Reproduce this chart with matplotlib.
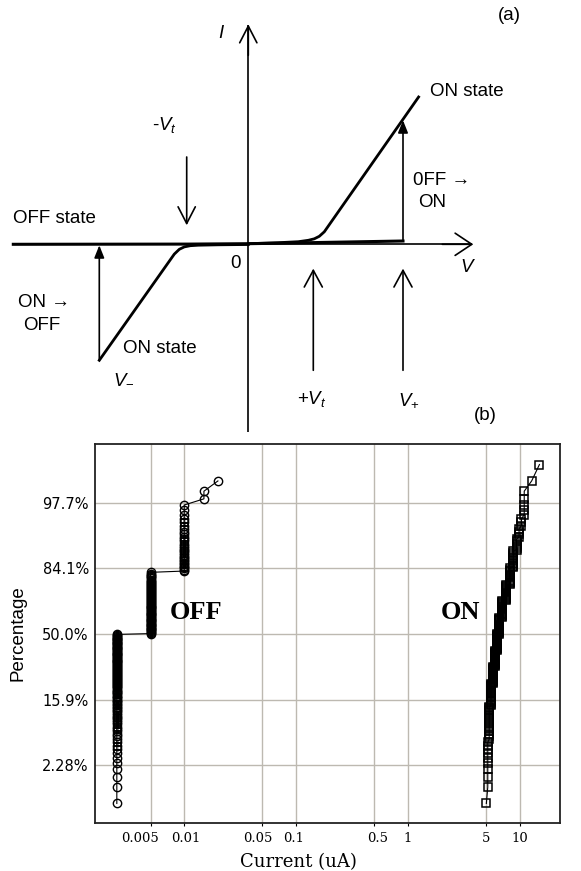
import matplotlib
matplotlib.use('Agg')
import matplotlib.pyplot as plt
import numpy as np
from statistics import NormalDist
from matplotlib.ticker import FixedLocator, FixedFormatter, NullLocator
from matplotlib.transforms import ScaledTranslation

plt.rcParams['font.family'] = ['Liberation Sans', 'DejaVu Sans']
plt.rcParams['mathtext.fontset'] = 'custom'
plt.rcParams['mathtext.it'] = 'Liberation Sans:italic'
plt.rcParams['mathtext.rm'] = 'Liberation Sans'

# ---------------- panel (b) data ----------------
n_devices = 200
off_current = [0.0025, 0.005, 0.01, 0.015, 0.02]          # uA
off_count = [100, 66, 30, 2, 1]
on_current = [5.0, 5.15, 5.3, 5.5, 5.7, 5.95, 6.2, 6.5, 6.95, 7.5,
              8.1, 8.7, 9.3, 9.8, 10.3, 10.9, 12.7, 14.9]  # uA
on_count = [1, 9, 17, 18, 17, 18, 20, 20, 19, 16, 14, 11, 6, 4, 3, 5, 1, 1]
y_tick_labels = ['2.28%', '15.9%', '50.0%', '84.1%', '97.7%']
x_tick_values = [0.005, 0.01, 0.05, 0.1, 0.5, 1, 5, 10]
x_tick_labels = ['0.005', '0.01', '0.05', '0.1', '0.5', '1', '5', '10']

# ---------------- panel (a) schematic data (V, I in arbitrary units) ----------------
v_axis_v = [-235.0, 224.0]
v_axis_i = [0.0, 0.0]
i_axis_v = [0.0, 0.0]
i_axis_i = [-188.0, 219.0]
off_state_v = [-235.0, -60.0, 0.0, 60.0, 154.7]
off_state_i = [0.0, 0.2, 0.6, 1.6, 3.3]
on_pos_v = [0.0, 30.0, 50.0, 60.0, 66.0, 71.0, 76.0, 170.3]
on_pos_i = [0.6, 1.6, 2.6, 4.0, 5.5, 8.0, 12.5, 147.3]
on_neg_v = [0.0, -30.0, -50.0, -58.0, -64.0, -69.0, -74.0, -149.0]
on_neg_i = [-0.2, -0.5, -0.9, -1.4, -2.6, -5.0, -9.8, -116.0]
v_minus, v_plus, v_t = -149.0, 154.7, 63.5

fig = plt.figure(figsize=(5.81, 8.71), dpi=100)

# ================= panel (a) =================
ax_a = fig.add_axes([0, 1 - 444 / 871, 1, 444 / 871])
ax_a.set_xlim(-248.3, 332.7)
ax_a.set_ylim(-199.7, 244.3)
ax_a.axis('off')

ax_a.plot(v_axis_v, v_axis_i, color='k', lw=1.2, solid_capstyle='butt')
ax_a.plot(i_axis_v, i_axis_i, color='k', lw=1.2, solid_capstyle='butt')
ax_a.plot(off_state_v, off_state_i, color='k', lw=2.2)
ax_a.plot(on_pos_v, on_pos_i, color='k', lw=2.0)
ax_a.plot(on_neg_v, on_neg_i, color='k', lw=2.0)


def chevron(tail, tip, hw):
    ax_a.annotate('', xy=tip, xytext=tail,
                  arrowprops=dict(arrowstyle='->,head_length=1.2,head_width=%g' % hw,
                                  lw=1.2, color='k', shrinkA=0, shrinkB=0,
                                  mutation_scale=10))


def filled(tail, tip):
    ax_a.annotate('', xy=tip, xytext=tail,
                  arrowprops=dict(arrowstyle='-|>,head_length=0.75,head_width=0.3',
                                  lw=1.2, color='k', shrinkA=0, shrinkB=0,
                                  mutation_scale=10))


# axis arrowheads
chevron((v_axis_v[1] - 30, 0), (v_axis_v[1] + 1, 0), 0.8)
chevron((0, i_axis_i[1] - 30), (0, i_axis_i[1] + 1), 0.62)
# threshold arrows
chevron((-61.6, 87.3), (-61.6, 19.0), 0.62)
chevron((v_t + 1.5, -126.0), (v_t + 1.5, -24.3), 0.65)
chevron((v_plus, -126.0), (v_plus, -24.3), 0.65)
# switching arrows
filled((v_minus, on_neg_i[-1]), (v_minus, -1.0))
filled((v_plus, off_state_i[-1]), (v_plus, 124.0))

fs = 13.5
arrow_font = ['Liberation Sans', 'DejaVu Sans']
ax_a.text(261, 229, '(a)', fontsize=fs, ha='center', va='center')
ax_a.text(-26.6, 211, '$I$', fontsize=fs, ha='center', va='center')
ax_a.text(219, 152.3, 'ON state', fontsize=fs, ha='center', va='center')
ax_a.text(-84.3, 119, '-$V_t$', fontsize=fs, ha='center', va='center')
ax_a.text(164.7, 64, '0FF \u2192', fontsize=fs, ha='left', va='center')
ax_a.text(169.7, 42.3, 'ON', fontsize=fs, ha='left', va='center')
ax_a.text(-235.3, 25.7, 'OFF state', fontsize=fs, ha='left', va='center')
ax_a.text(-13.3, -19.3, '0', fontsize=fs, ha='center', va='center')
ax_a.text(220, -22.7, '$V$', fontsize=fs, ha='center', va='center')
ax_a.text(-230.3, -57.7, 'ON \u2192', fontsize=fs, ha='left', va='center')
ax_a.text(-225.3, -81, 'OFF', fontsize=fs, ha='left', va='center')
ax_a.text(-125.3, -104.3, 'ON state', fontsize=fs, ha='left', va='center')
ax_a.text(-135.3, -134.3, '$V_{-}$', fontsize=fs, ha='left', va='center')
ax_a.text(63.7, -154.3, '+$V_t$', fontsize=fs, ha='center', va='center')
ax_a.text(160.7, -156, '$V_{+}$', fontsize=fs, ha='center', va='center')
ax_a.text(236.7, -171, '(b)', fontsize=fs, ha='center', va='center')

# ================= panel (b) =================
ax_b = fig.add_axes([95 / 581, (871 - 822.7) / 871, 465 / 581, 378.7 / 871])
nd = NormalDist()


def positions(counts):
    ranks = np.arange(1, sum(counts) + 1)
    return np.array([nd.inv_cdf(r / (n_devices + 1)) for r in ranks])


off_x = np.repeat(off_current, off_count)
off_z = positions(off_count)
on_x = np.repeat(on_current, on_count)
on_z = positions(on_count)

ax_b.plot(off_x, off_z, '-', color='k', lw=0.8, marker='o', ms=6.0,
          mfc='none', mec='k', mew=1.0, zorder=3)
ax_b.plot(on_x, on_z, '-', color='k', lw=0.8, marker='s', ms=6.3,
          mfc='none', mec='k', mew=1.1, zorder=3)

ax_b.set_xscale('log')
ax_b.set_xlim(10 ** -2.797, 10 ** 1.357)
ax_b.set_ylim(-2.87, 2.89)

y_tick_pos = [nd.inv_cdf(float(s.rstrip('%')) / 100) for s in y_tick_labels]
ax_b.yaxis.set_major_locator(FixedLocator(y_tick_pos))
ax_b.yaxis.set_major_formatter(FixedFormatter(y_tick_labels))
ax_b.xaxis.set_major_locator(FixedLocator(x_tick_values))
ax_b.xaxis.set_major_formatter(FixedFormatter(x_tick_labels))
ax_b.xaxis.set_minor_locator(NullLocator())
ax_b.yaxis.set_minor_locator(NullLocator())

ax_b.grid(True, color='#bdb9b1', lw=1.0)
ax_b.set_axisbelow(True)
for s in ax_b.spines.values():
    s.set_linewidth(1.3)
    s.set_color('#222222')

ax_b.tick_params(axis='y', length=0, pad=4.5, labelsize=10.5)
ax_b.tick_params(axis='x', length=2.5, width=0.8, pad=4, labelsize=9.5)
for lab in ax_b.get_yticklabels():
    lab.set_fontfamily('DejaVu Sans')
# small horizontal nudges of crowded x tick labels (pixels)
x_label_shift = {'0.005': -11, '0.01': 2, '0.05': -5, '0.1': -3, '0.5': 3}
for lab in ax_b.get_xticklabels():
    lab.set_fontfamily('DejaVu Serif')
    dx = x_label_shift.get(lab.get_text(), 0)
    if dx:
        lab.set_transform(lab.get_transform() +
                          ScaledTranslation(dx / 100, 0, fig.dpi_scale_trans))

ax_b.set_ylabel('Percentage', fontsize=13.5)
ax_b.yaxis.set_label_coords(-0.147, 0.5)
fig.text(298 / 581, 1 - 862 / 871, 'Current (uA)', fontsize=13,
         family='DejaVu Serif', ha='center', va='center')

ax_b.text(0.01285, 0.235, 'OFF', fontsize=19, fontweight='bold',
          family='Liberation Serif', ha='center', va='baseline')
ax_b.text(2.91, 0.235, 'ON', fontsize=19, fontweight='bold',
          family='Liberation Serif', ha='center', va='baseline')

fig.savefig('out.png', dpi=100)
